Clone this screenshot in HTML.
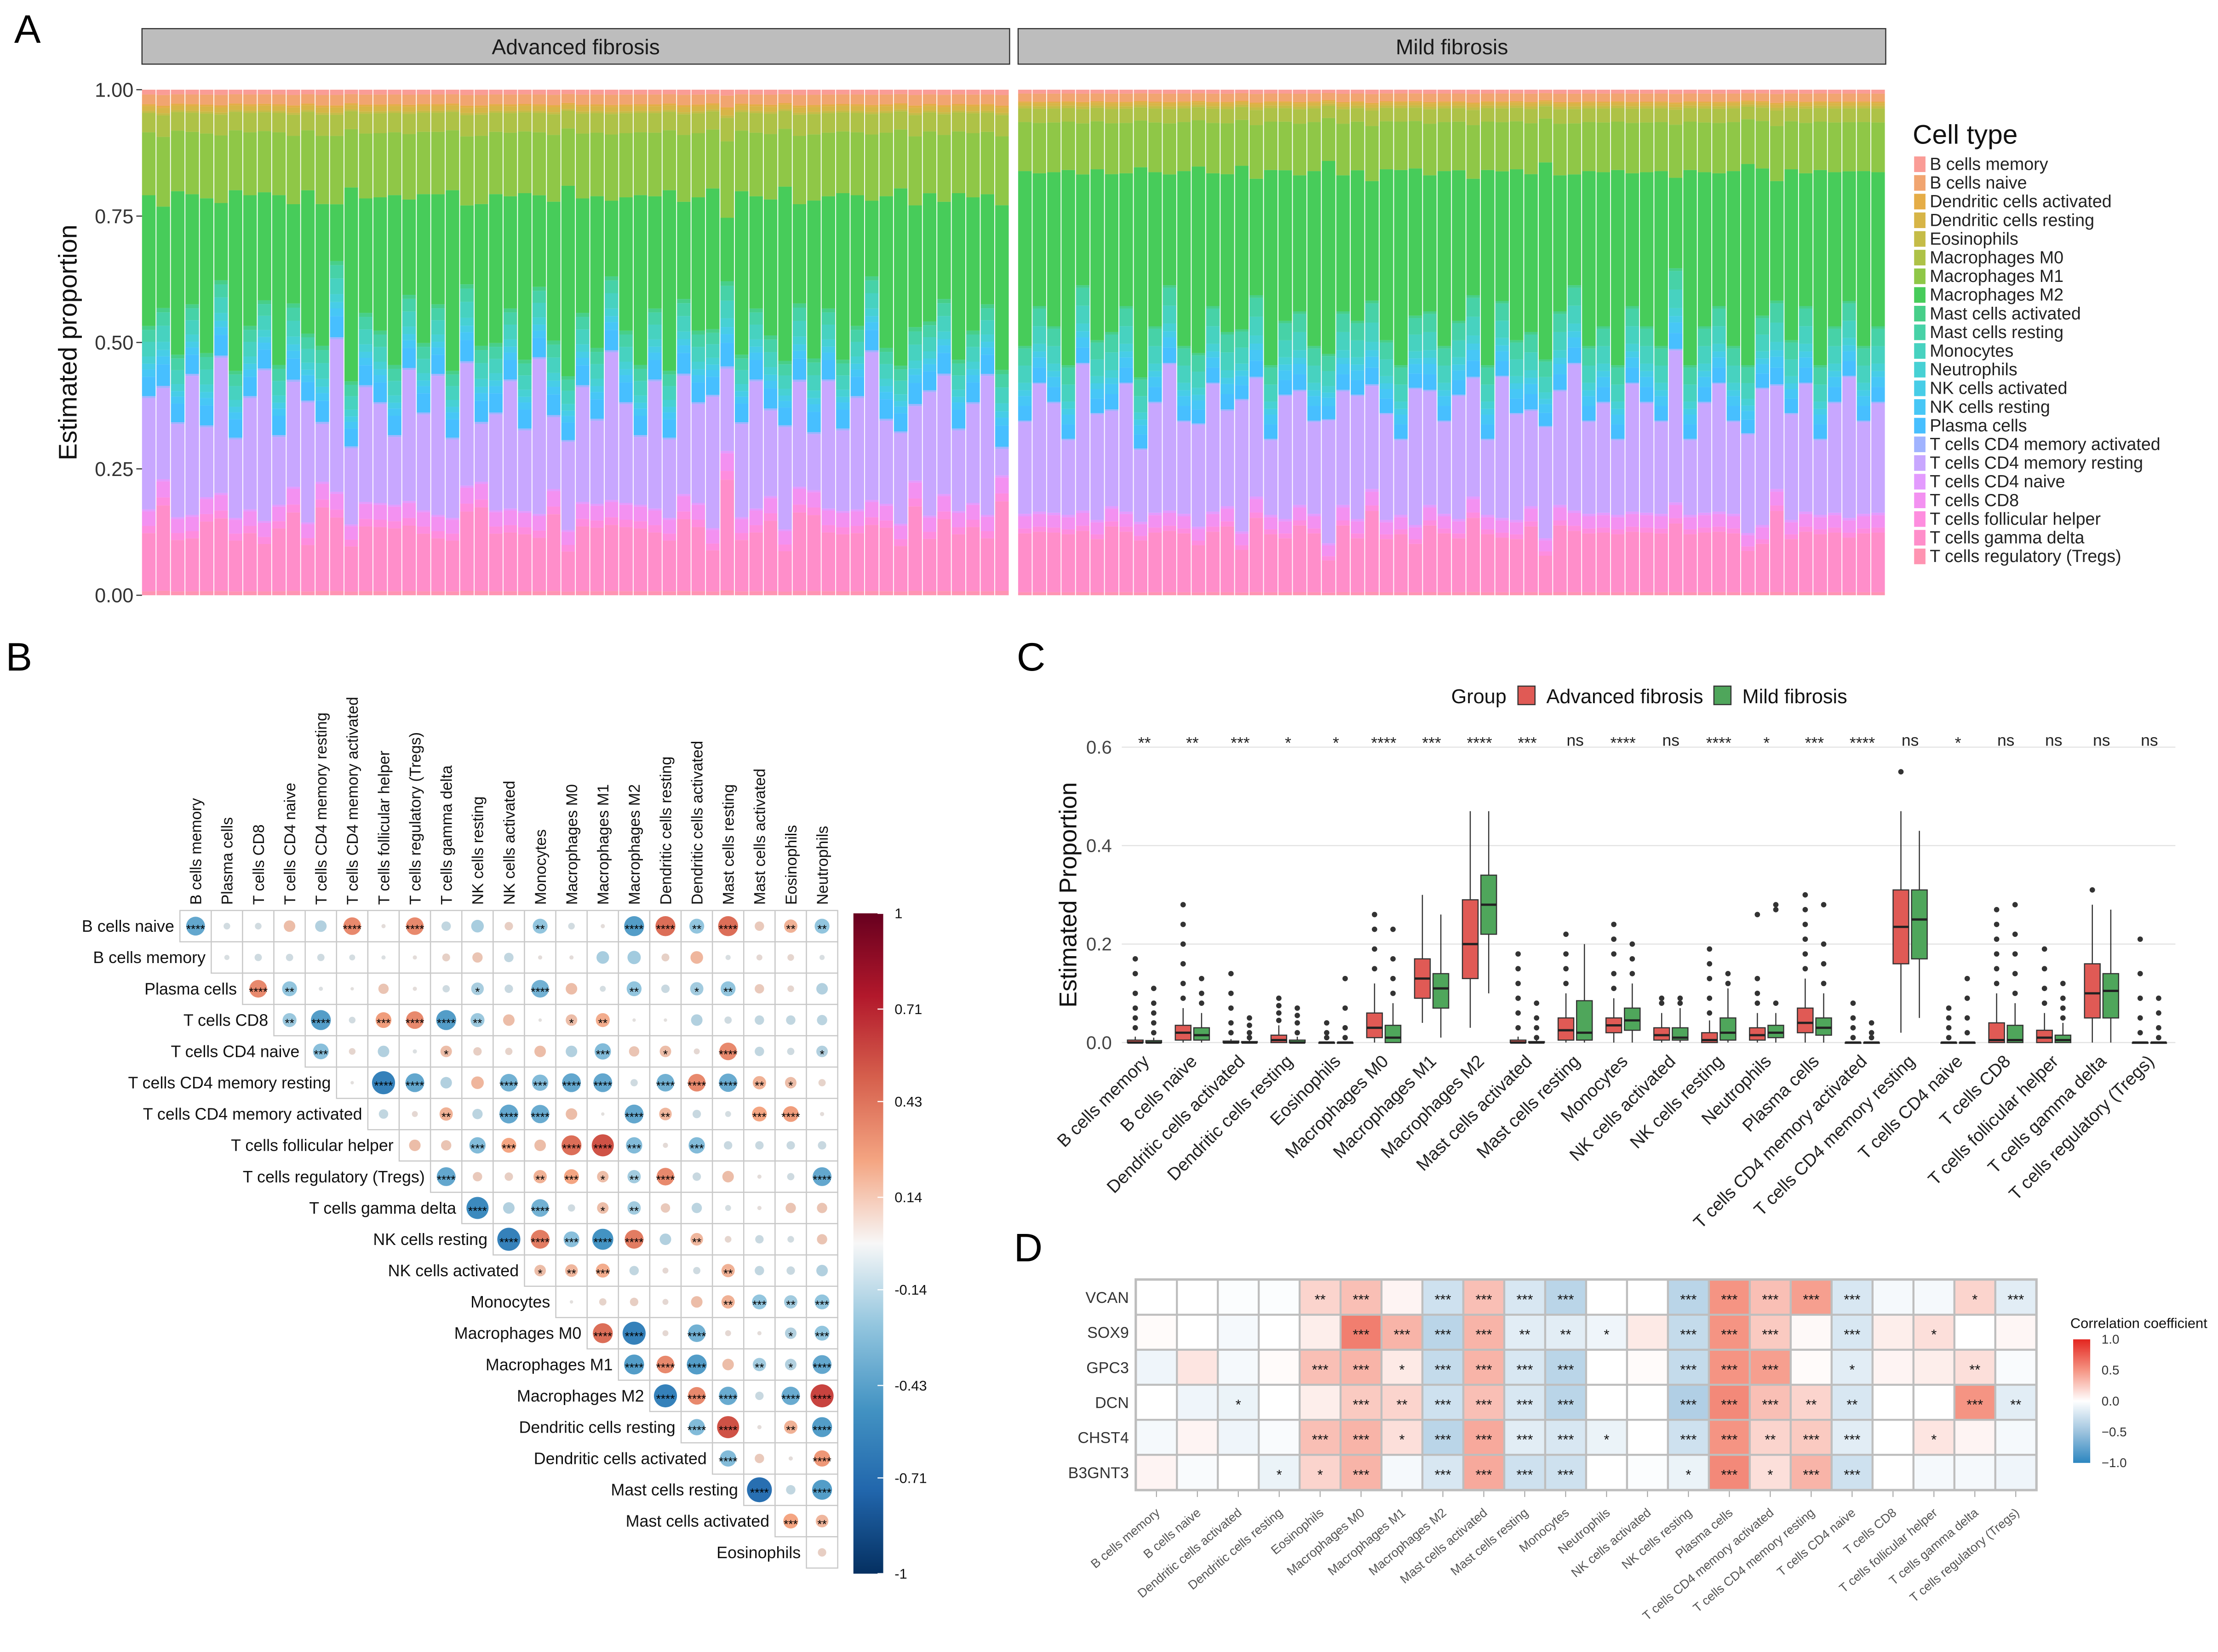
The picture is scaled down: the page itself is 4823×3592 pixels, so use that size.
<!DOCTYPE html>
<html><head><meta charset="utf-8">
<style>
html,body{margin:0;padding:0;background:#fff;}
svg{display:block;font-family:"Liberation Sans",Arial,sans-serif;}
</style></head>
<body>
<svg id="fig" xmlns="http://www.w3.org/2000/svg" width="4823" height="3592" viewBox="0 0 1562 1163">
<defs>
<linearGradient id="gradB" x1="0" y1="0" x2="0" y2="1">
<stop offset="0" stop-color="#67001F"/><stop offset="0.125" stop-color="#B2182B"/><stop offset="0.25" stop-color="#D6604D"/><stop offset="0.375" stop-color="#F4A582"/><stop offset="0.5" stop-color="#F7F7F7"/><stop offset="0.625" stop-color="#92C5DE"/><stop offset="0.75" stop-color="#4393C3"/><stop offset="0.875" stop-color="#2166AC"/><stop offset="1" stop-color="#053061"/>
</linearGradient>
<linearGradient id="gradD" x1="0" y1="0" x2="0" y2="1">
<stop offset="0" stop-color="#E3251F"/><stop offset="0.25" stop-color="#F59483"/><stop offset="0.5" stop-color="#FFFFFF"/><stop offset="0.75" stop-color="#9DC3DE"/><stop offset="1" stop-color="#2C86C0"/>
</linearGradient>
</defs>
<text x="10" y="30" font-size="28">A</text>
<text x="4" y="472" font-size="28">B</text>
<text x="716" y="472" font-size="28">C</text>
<text x="714" y="888" font-size="28">D</text>
<g id="pA"></g>
<g id="pB"></g>
<g id="pC"></g>
<g id="pD"></g>
</svg>
<script>
const NS="http://www.w3.org/2000/svg";
function mk(tag,attrs,parent){const e=document.createElementNS(NS,tag);for(const k in attrs)e.setAttribute(k,attrs[k]);parent.appendChild(e);return e;}
function txt(s,attrs,parent){const e=mk('text',attrs,parent);e.textContent=s;return e;}

/* ---------- Panel A data ---------- */
const cellTypes=["B cells memory","B cells naive","Dendritic cells activated","Dendritic cells resting","Eosinophils","Macrophages M0","Macrophages M1","Macrophages M2","Mast cells activated","Mast cells resting","Monocytes","Neutrophils","NK cells activated","NK cells resting","Plasma cells","T cells CD4 memory activated","T cells CD4 memory resting","T cells CD4 naive","T cells CD8","T cells follicular helper","T cells gamma delta","T cells regulatory (Tregs)"];
const meanAdv=[0.01,0.02,0.004,0.01,0.004,0.04,0.13,0.27,0.008,0.025,0.03,0.015,0.012,0.015,0.04,0.004,0.2,0.004,0.03,0.015,0.13,0.008];
const meanMild=[0.008,0.016,0.003,0.006,0.005,0.028,0.1,0.31,0.005,0.035,0.035,0.015,0.012,0.02,0.03,0.003,0.22,0.005,0.025,0.01,0.12,0.006];
const advM2Scale=[1.0,0.8,1.2,0.9,1.1,0.7,1.3,1.0,0.9,1.2,0.8,1.1,1.0,0.6,1.4,0.9,1.0,1.2,0.8,1.1,0.9,1.3,0.7,1.0,1.1,0.9,1.2,0.8,1.0,1.4,0.9,1.1,0.7,1.0,1.2,0.9,1.3,0.8,1.0,1.1,0.6,1.2,0.9,1.0,1.3,0.8,1.1,0.9,1.2,1.0,0.7,1.1,1.3,0.9,1.0,0.8,1.2,1.0,0.9,1.1];
const advCd4Scale=[1.1,0.9,1.0,1.3,0.8,1.2,0.9,1.1,1.4,0.8,1.0,1.2,0.7,1.3,0.9,1.1,1.0,0.8,1.2,1.0,1.3,0.9,1.1,0.7,1.0,1.2,0.9,1.4,0.8,1.0,1.1,0.9,1.3,1.0,0.8,1.2,0.9,1.1,1.0,1.3,0.8,1.0,1.2,0.9,1.1,1.0,0.7,1.2,0.9,1.1,1.3,0.9,1.0,0.8,1.2,1.1,0.9,1.0,1.3,0.5];
const mildM2Scale=[1.1,0.9,1.0,1.2,0.8,1.1,1.0,0.9,1.3,1.0,0.8,1.1,1.2,0.9,1.0,1.1,0.8,1.2,1.0,0.9,1.1,1.3,0.9,1.0,0.8,1.1,1.2,1.0,0.9,1.1,1.0,0.8,1.2,0.9,1.1,1.0,1.3,0.9,0.8,1.1,1.0,1.2,0.9,1.0,1.1,0.7,1.2,1.0,0.9,1.1,1.3,1.0,0.8,1.1,0.9,1.2,1.0,0.9,1.1,1.0];
const mildCd4Scale=[0.9,1.1,1.0,0.8,1.2,1.0,0.9,1.1,0.8,1.0,1.2,0.9,1.0,1.1,0.9,1.2,1.0,0.8,1.1,1.0,0.9,1.2,1.0,1.1,0.9,1.0,0.8,1.2,1.0,0.9,1.1,1.0,0.8,1.2,1.0,0.9,1.1,1.0,1.2,0.9,1.0,0.8,1.1,1.0,0.9,1.2,0.8,1.0,1.1,0.9,1.0,1.2,0.9,1.0,1.1,0.8,1.0,1.2,0.9,1.0];
const yTicksA=[0,0.25,0.5,0.75,1];
const yTickLabelsA=["0.00","0.25","0.50","0.75","1.00"];

function hcl(h){const L=65,C=100,hr=h*Math.PI/180,u=C*Math.cos(hr),v=C*Math.sin(hr);const Y=Math.pow((L+16)/116,3);const up=u/(13*L)+0.19784,vp=v/(13*L)+0.46834;const X=Y*9*up/(4*vp),Z=Y*(12-3*up-20*vp)/(4*vp);let r=3.2406*X-1.5372*Y-0.4986*Z,g=-0.9689*X+1.8758*Y+0.0415*Z,b=0.0557*X-0.2040*Y+1.0570*Z;const gm=c=>{c=Math.max(0,Math.min(1,c));return Math.round(255*(c<=0.0031308?12.92*c:1.055*Math.pow(c,1/2.4)-0.055));};return `rgb(${gm(r)},${gm(g)},${gm(b)})`;}
const typeColors=cellTypes.map((_,i)=>hcl(15+360*i/cellTypes.length));

(function(){
const g=document.getElementById('pA');
const yA=v=>419-v*356;
const facets=[{name:"Advanced fibrosis",x0:100,x1:711,mean:meanAdv,s1:advM2Scale,s2:advCd4Scale},{name:"Mild fibrosis",x0:717,x1:1328,mean:meanMild,s1:mildM2Scale,s2:mildCd4Scale}];
facets.forEach((f,fi)=>{
 const strip=mk('rect',{x:f.x0,y:20,width:f.x1-f.x0,height:25,fill:'#BDBDBD',stroke:'#333','stroke-width':0.8},g);
 
 
 const st=txt(f.name,{x:(f.x0+f.x1)/2,y:38,'font-size':15,'text-anchor':'middle',fill:'#1a1a1a'},g);
 
 
 const n=f.s1.length,step=(f.x1-f.x0)/n;
 for(let s=0;s<n;s++){
  const a=1+1.5*(f.s1[s]-1),b=1+1.5*(f.s2[s]-1);
  const vals=f.mean.map((m,i)=>i===7?m*a:(i===16?m*b:(i===20?m*Math.max(0.3,2-a*0.5-b*0.5):m)));
  const tot=vals.reduce((x,y)=>x+y,0);
  let cum=1;
  for(let i=0;i<vals.length;i++){
   const p=vals[i]/tot;
   const r=mk('rect',{x:f.x0+s*step,y:yA(cum),width:step*0.94,height:p*356,fill:typeColors[i],'fill-opacity':0.72},g);
   
   
   cum-=p;
  }
 }
});
yTicksA.forEach((t,i)=>{
 const tl=txt(yTickLabelsA[i],{x:94,y:yA(t)+5,'font-size':14,'text-anchor':'end',fill:'#333'},g);
 
 
 mk('line',{x1:96,x2:100,y1:yA(t),y2:yA(t),stroke:'#333','stroke-width':0.8},g);
});
const yt=txt('Estimated proportion',{x:0,y:0,'font-size':18,'text-anchor':'middle',transform:'translate(54,241) rotate(-90)',fill:'#111'},g);


const lt=txt('Cell type',{x:1347,y:101,'font-size':19,fill:'#111'},g);


cellTypes.forEach((c,i)=>{
 const y=110+i*13.15;
 const k=mk('rect',{x:1348,y:y,width:8,height:11,fill:typeColors[i],'fill-opacity':0.72},g);
 
 
 const t=txt(c,{x:1359,y:y+9.5,'font-size':12.2,fill:'#222'},g);
 
 
});
})();

/* ---------- Panel B data ---------- */
const corrCols=["B cells memory","Plasma cells","T cells CD8","T cells CD4 naive","T cells CD4 memory resting","T cells CD4 memory activated","T cells follicular helper","T cells regulatory (Tregs)","T cells gamma delta","NK cells resting","NK cells activated","Monocytes","Macrophages M0","Macrophages M1","Macrophages M2","Dendritic cells resting","Dendritic cells activated","Mast cells resting","Mast cells activated","Eosinophils","Neutrophils"];
const corrRows=["B cells naive","B cells memory","Plasma cells","T cells CD8","T cells CD4 naive","T cells CD4 memory resting","T cells CD4 memory activated","T cells follicular helper","T cells regulatory (Tregs)","T cells gamma delta","NK cells resting","NK cells activated","Monocytes","Macrophages M0","Macrophages M1","Macrophages M2","Dendritic cells resting","Dendritic cells activated","Mast cells resting","Mast cells activated","Eosinophils"];
const corrVals=[
[-0.4,-0.05,-0.05,0.15,-0.15,0.35,0.02,0.35,-0.1,-0.18,0.08,-0.25,-0.05,0.02,-0.45,0.45,-0.25,0.45,0.1,0.2,-0.25],
[-0.03,-0.06,-0.06,-0.06,-0.04,-0.02,0.02,0.07,0.12,-0.1,0.02,0.02,-0.18,-0.2,0.07,0.18,-0.03,0.04,0.05,-0.03],
[0.35,-0.25,-0.02,0.01,0.12,0.02,-0.06,-0.18,-0.08,-0.35,0.15,-0.04,-0.25,-0.08,-0.2,-0.25,0.1,0.05,-0.15],
[-0.22,-0.45,-0.05,0.28,0.35,-0.45,-0.22,0.15,0.01,0.15,0.22,0.01,0.01,-0.15,-0.06,-0.1,-0.1,-0.12],
[-0.28,0.05,-0.15,-0.02,0.15,0.08,0.06,0.15,-0.15,-0.3,0.12,0.15,0.04,0.35,-0.1,-0.06,-0.15],
[0.01,-0.6,-0.4,-0.15,0.18,-0.35,-0.3,-0.4,-0.4,-0.06,-0.35,0.35,-0.38,0.2,0.15,0.06],
[-0.1,0.04,0.2,-0.12,-0.4,-0.38,0.15,0.01,-0.4,0.18,-0.08,-0.04,0.25,0.28,0.02],
[0.15,0.12,-0.3,0.25,0.15,0.45,0.55,-0.3,0.03,-0.3,-0.08,-0.08,-0.08,-0.08],
[-0.4,0.1,0.08,0.2,0.25,0.15,-0.2,0.35,-0.08,0.15,0.02,-0.06,-0.4],
[-0.55,-0.15,-0.35,-0.06,0.15,-0.2,0.1,-0.12,-0.04,0.02,0.12,0.12],
[-0.6,0.4,-0.28,-0.5,0.4,-0.15,0.18,0.05,-0.08,-0.05,0.12],
[0.15,0.18,0.22,-0.1,0.04,-0.06,0.2,-0.1,-0.08,-0.15],
[0.01,0.06,0.08,0.04,0.15,0.2,-0.25,-0.2,-0.25],
[0.45,-0.6,0.04,-0.35,0.04,0.02,-0.15,-0.25],
[-0.45,0.35,-0.45,0.15,-0.2,-0.15,-0.4],
[-0.6,0.35,-0.38,-0.08,-0.38,0.6],
[-0.3,0.55,0.02,0.2,-0.45],
[-0.3,0.1,0.02,0.3],
[-0.7,-0.1,-0.45],
[0.25,0.18],
[0.08]];
const corrStars=[
["****","","","","","****","","****","","","","**","","","****","****","**","****","","**","**"],
["","","","","","","","","","","","","","","","","","","",""],
["****","**","","","","","","*","","****","","","**","","*","**","","",""],
["**","****","","***","****","****","**","","","*","**","","","","","","",""],
["***","","","","*","","","","","***","","*","","****","","","*"],
["","****","****","","","****","***","****","****","","****","****","****","**","*",""],
["","","**","","****","****","","","****","**","","","***","****",""],
["","","***","***","","****","****","***","","***","","","",""],
["****","","","**","***","*","**","****","","","","","****"],
["****","","****","","*","**","","","","","",""],
["****","****","***","****","****","","**","","","",""],
["*","**","***","","","","**","","",""],
["","","","","","**","***","**","***"],
["****","****","","****","","","*","***"],
["****","****","****","","**","*","****"],
["****","****","****","","****","****"],
["****","****","","**","****"],
["****","","","****"],
["****","","****"],
["***","**"],
[""]];
const corrBarTicks=[1,0.71,0.43,0.14,-0.14,-0.43,-0.71,-1];

function lerpStops(stops,v){for(let i=0;i<stops.length-1;i++){const a=stops[i],b=stops[i+1];if(v>=a[0]&&v<=b[0]){const t=(v-a[0])/(b[0]-a[0]);const ca=a[1],cb=b[1];return `rgb(${Math.round(ca[0]+(cb[0]-ca[0])*t)},${Math.round(ca[1]+(cb[1]-ca[1])*t)},${Math.round(ca[2]+(cb[2]-ca[2])*t)})`;}}return 'rgb(255,255,255)';}
const rdbu=[[-1,[5,48,97]],[-0.75,[33,102,172]],[-0.5,[67,147,195]],[-0.25,[146,197,222]],[0,[225,225,225]],[0.25,[244,165,130]],[0.5,[214,96,77]],[0.75,[178,24,43]],[1,[103,0,31]]];

(function(){
const g=document.getElementById('pB');
const x0=126.7,cw=22.06,y0=641,rh=22.05;
corrCols.forEach((c,i)=>{
 const t=txt(c,{x:0,y:0,'font-size':11,fill:'#111',transform:`translate(${x0+cw*(i+0.5)+4},637) rotate(-90)`},g);
 
 
});
corrRows.forEach((rn,r)=>{
 const cy=y0+rh*(r+0.5);
 const t=txt(rn,{x:x0+cw*r-4,y:cy+4,'font-size':11.6,'text-anchor':'end',fill:'#111'},g);
 
 
 corrVals[r].forEach((v,k)=>{
  const c=r+k,cx=x0+cw*(c+0.5);
  const cell=mk('rect',{x:x0+cw*c,y:y0+rh*r,width:cw,height:rh,fill:'#fff',stroke:'#C8C8C8','stroke-width':0.8},g);
  
  
  const circ=mk('circle',{cx:cx,cy:cy,r:Math.max(1.2,Math.sqrt(Math.abs(v))*cw*0.5*0.95),fill:lerpStops(rdbu,v)},g);
  
  
  const s=corrStars[r][k];
  if(s){const st=txt(s,{x:cx,y:cy+5,'font-size':8.5,'text-anchor':'middle',fill:'#000'},g);
   
   }
 });
});
const bar=mk('rect',{x:601,y:643,width:21,height:465,fill:'url(#gradB)'},g);


corrBarTicks.forEach(t=>{
 const y=643+(1-t)/2*465;
 mk('line',{x1:618,x2:622,y1:y,y2:y,stroke:'#fff','stroke-width':0.8},g);
 const l=txt(String(t),{x:630,y:y+3.5,'font-size':10,fill:'#111'},g);
 
 
});
})();

/* ---------- Panel C data ---------- */
const boxCats=["B cells memory","B cells naive","Dendritic cells activated","Dendritic cells resting","Eosinophils","Macrophages M0","Macrophages M1","Macrophages M2","Mast cells activated","Mast cells resting","Monocytes","NK cells activated","NK cells resting","Neutrophils","Plasma cells","T cells CD4 memory activated","T cells CD4 memory resting","T cells CD4 naive","T cells CD8","T cells follicular helper","T cells gamma delta","T cells regulatory (Tregs)"];
const sigLabels=["**","**","***","*","*","****","***","****","***","ns","****","ns","****","*","***","****","ns","*","ns","ns","ns","ns"];
/* [lowWhisker, q1, median, q3, highWhisker] */
const statsAdv=[[0,0,0,0.005,0.012],[0,0.005,0.02,0.035,0.07],[0,0,0,0.003,0.007],[0,0,0.005,0.015,0.035],[0,0,0,0,0.002],[0,0.01,0.03,0.06,0.12],[0.04,0.09,0.13,0.17,0.3],[0.03,0.13,0.2,0.29,0.47],[0,0,0,0.005,0.012],[0,0.005,0.025,0.05,0.1],[0,0.02,0.035,0.05,0.09],[0,0.005,0.015,0.03,0.06],[0,0,0.005,0.02,0.045],[0,0.005,0.015,0.03,0.06],[0,0.02,0.04,0.07,0.13],[0,0,0,0,0.002],[0.02,0.16,0.235,0.31,0.47],[0,0,0,0,0.002],[0,0,0.005,0.04,0.1],[0,0,0.01,0.025,0.06],[0,0.05,0.1,0.16,0.28],[0,0,0,0,0.002]];
const statsMild=[[0,0,0,0.004,0.01],[0,0.005,0.015,0.03,0.06],[0,0,0,0.002,0.005],[0,0,0,0.005,0.012],[0,0,0,0,0.002],[0,0,0.01,0.035,0.08],[0.01,0.07,0.11,0.14,0.26],[0.1,0.22,0.28,0.34,0.47],[0,0,0,0.002,0.005],[0,0.005,0.02,0.085,0.2],[0,0.025,0.045,0.07,0.12],[0,0.005,0.01,0.03,0.07],[0,0.005,0.02,0.05,0.11],[0,0.01,0.02,0.035,0.06],[0,0.015,0.03,0.05,0.1],[0,0,0,0,0.002],[0.05,0.17,0.25,0.31,0.43],[0,0,0,0,0.002],[0,0,0.005,0.035,0.08],[0,0,0.005,0.015,0.04],[0,0.05,0.105,0.14,0.27],[0,0,0,0,0.002]];
const outAdv=[[0.03,0.05,0.07,0.1,0.14,0.17],[0.09,0.12,0.16,0.2,0.24,0.28],[0.02,0.04,0.07,0.1,0.14],[0.045,0.06,0.075,0.09],[0.01,0.02,0.04],[0.15,0.19,0.23,0.26],[],[],[0.03,0.06,0.09,0.12,0.15,0.18],[0.12,0.15,0.18,0.22],[0.11,0.14,0.18,0.21,0.24],[0.08,0.09],[0.06,0.09,0.13,0.16,0.19],[0.08,0.1,0.13,0.26],[0.15,0.18,0.21,0.24,0.27,0.3],[0.01,0.03,0.05,0.08],[0.55],[0.01,0.03,0.05,0.07],[0.12,0.15,0.18,0.21,0.24,0.27],[0.08,0.11,0.15,0.19],[0.31],[0.02,0.05,0.09,0.14,0.21]];
const outMild=[[0.02,0.04,0.06,0.08,0.11],[0.08,0.1,0.13],[0.01,0.02,0.035,0.05],[0.02,0.04,0.055,0.07],[0.01,0.03,0.07,0.13],[0.1,0.13,0.17,0.23],[],[],[0.01,0.03,0.05,0.08],[],[0.14,0.17,0.2],[0.08,0.09],[0.12,0.14],[0.08,0.27,0.28],[0.12,0.16,0.2,0.28],[0.01,0.02,0.04],[],[0.02,0.05,0.09,0.13],[0.1,0.14,0.18,0.22,0.28],[0.05,0.07,0.09,0.12],[],[0.01,0.03,0.06,0.09]];
const yTicksC=[0,0.2,0.4,0.6];
const yTickLabelsC=["0.0","0.2","0.4","0.6"];

(function(){
const g=document.getElementById('pC');
const yC=v=>734-v*346.7;
const xC=i=>806+i*33.7;
yTicksC.forEach((t,i)=>{
 const gl=mk('line',{x1:790,x2:1532,y1:yC(t),y2:yC(t),stroke:'#E3E3E3','stroke-width':0.8},g);
 
 
 const l=txt(yTickLabelsC[i],{x:783,y:yC(t)+4.5,'font-size':13,'text-anchor':'end',fill:'#444'},g);
 
 
});
const yt=txt('Estimated Proportion',{x:0,y:0,'font-size':17,'text-anchor':'middle',transform:'translate(758,630) rotate(-90)',fill:'#111'},g);


const lg=txt('Group',{x:1022,y:495,'font-size':14,fill:'#111'},g);


[['Advanced fibrosis','#E05A55',1069],['Mild fibrosis','#4FA65B',1207]].forEach(([n,c,x])=>{
 const k=mk('rect',{x:x,y:483,width:12,height:13,fill:c,stroke:'#333','stroke-width':0.8},g);
 
 
 const t=txt(n,{x:x+20,y:495,'font-size':14,fill:'#111'},g);
 
 
});
function drawBox(st,outs,cx,color){
 const w=11;
 mk('line',{x1:cx,x2:cx,y1:yC(st[0]),y2:yC(st[1]),stroke:'#333','stroke-width':0.8},g);
 mk('line',{x1:cx,x2:cx,y1:yC(st[3]),y2:yC(st[4]),stroke:'#333','stroke-width':0.8},g);
 const b=mk('rect',{x:cx-w/2,y:yC(st[3]),width:w,height:Math.max(0.5,yC(st[1])-yC(st[3])),fill:color,stroke:'#333','stroke-width':0.8},g);
 
 
 mk('line',{x1:cx-w/2,x2:cx+w/2,y1:yC(st[2]),y2:yC(st[2]),stroke:'#222','stroke-width':1.6},g);
 outs.forEach(o=>{const p=mk('circle',{cx:cx,cy:yC(o),r:1.9,fill:'#333'},g);
  
  });
}
boxCats.forEach((c,i)=>{
 drawBox(statsAdv[i],outAdv[i],xC(i)-6.5,'#E05A55');
 drawBox(statsMild[i],outMild[i],xC(i)+6.5,'#4FA65B');
 const s=txt(sigLabels[i],{x:xC(i),y:sigLabels[i]==='ns'?525:527,'font-size':11.5,'text-anchor':'middle',fill:'#222'},g);
 
 
 const l=txt(c,{x:0,y:0,'font-size':12.5,'text-anchor':'end',fill:'#222',transform:`translate(${xC(i)+4},748) rotate(-45)`},g);
 
 
});
})();

/* ---------- Panel D data ---------- */
const genes=["VCAN","SOX9","GPC3","DCN","CHST4","B3GNT3"];
const heatCols=["B cells memory","B cells naive","Dendritic cells activated","Dendritic cells resting","Eosinophils","Macrophages M0","Macrophages M1","Macrophages M2","Mast cells activated","Mast cells resting","Monocytes","Neutrophils","NK cells activated","NK cells resting","Plasma cells","T cells CD4 memory activated","T cells CD4 memory resting","T cells CD4 naive","T cells CD8","T cells follicular helper","T cells gamma delta","T cells regulatory (Tregs)"];
const heatVals=[
[0,0,-0.02,-0.02,0.2,0.3,0.05,-0.25,0.3,-0.2,-0.35,0,0,-0.35,0.5,0.3,0.45,-0.2,-0.05,-0.05,0.2,-0.15],
[0.02,0,-0.05,0,0.08,0.6,0.35,-0.35,0.35,-0.15,-0.15,-0.08,0.1,-0.3,0.5,0.25,0.03,-0.2,0.08,0.15,0,0.04],
[-0.08,0.12,-0.05,0.02,0.3,0.35,0.1,-0.3,0.35,-0.2,-0.35,0,0.02,-0.3,0.5,0.45,0.02,-0.15,0.05,0.08,0.15,-0.03],
[0,-0.08,-0.1,0,0.08,0.25,0.2,-0.25,0.3,-0.2,-0.35,0,0,-0.4,0.55,0.3,0.2,-0.2,0,0,0.5,-0.15],
[-0.05,0.05,-0.08,-0.03,0.3,0.35,0.15,-0.35,0.4,-0.15,-0.2,-0.1,0,-0.25,0.5,0.2,0.25,-0.15,0,0.12,0.05,-0.05],
[0.05,-0.03,0,-0.1,0.2,0.35,-0.05,-0.2,0.4,-0.25,-0.25,0,-0.02,-0.1,0.55,0.15,0.35,-0.25,0,-0.05,-0.05,-0.08]];
const heatSig=[
["","","","","**","***","","***","***","***","***","","","***","***","***","***","***","","","*","***"],
["","","","","","***","***","***","***","**","**","*","","***","***","***","","***","","*","",""],
["","","","","***","***","*","***","***","***","***","","","***","***","***","","*","","","**",""],
["","","*","","","***","**","***","***","***","***","","","***","***","***","**","**","","","***","**"],
["","","","","***","***","*","***","***","***","***","*","","***","***","**","***","***","","*","",""],
["","","","*","*","***","","***","***","***","***","","","*","***","*","***","***","","","",""]];
const heatLegendTicks=[1,0.5,0,-0.5,-1];
const heatLegendLabels=["1.0","0.5","0.0","\u22120.5","\u22121.0"];
const divStops=[[-1,[44,134,192]],[-0.5,[157,195,222]],[0,[255,255,255]],[0.5,[245,148,131]],[1,[227,37,31]]];

(function(){
const g=document.getElementById('pD');
const x0=800,cw=(1434-800)/22,y0=901,rh=(1049-901)/6;
mk('rect',{x:x0-1,y:y0-1,width:cw*22+2,height:rh*6+2,fill:'#BEBEBE'},g);
genes.forEach((gn,r)=>{
 const l=txt(gn,{x:x0-5,y:y0+rh*(r+0.5)+4,'font-size':11,'text-anchor':'end',fill:'#333'},g);
 
 
 heatVals[r].forEach((v,c)=>{
  const cell=mk('rect',{x:x0+cw*c,y:y0+rh*r,width:cw,height:rh,fill:lerpStops(divStops,v),stroke:'#BEBEBE','stroke-width':1.4},g);
  
  
  const s=heatSig[r][c];
  if(s){const t=txt(s,{x:x0+cw*(c+0.5),y:y0+rh*(r+0.5)+5,'font-size':10,'text-anchor':'middle',fill:'#111'},g);
   
   }
 });
});
heatCols.forEach((c,i)=>{
 const cx=x0+cw*(i+0.5);
 mk('line',{x1:cx,x2:cx,y1:1050,y2:1054,stroke:'#999','stroke-width':0.6},g);
 const l=txt(c,{x:0,y:0,'font-size':8.8,'text-anchor':'end',fill:'#555',transform:`translate(${cx+3},1066) rotate(-40)`},g);
 
 
});
const lt=txt('Correlation coefficient',{x:1458,y:935,'font-size':10,fill:'#111'},g);


const bar=mk('rect',{x:1460,y:943,width:12,height:87,fill:'url(#gradD)'},g);


heatLegendTicks.forEach((t,i)=>{
 const y=943+(1-t)/2*87;
 const l=txt(heatLegendLabels[i],{x:1480,y:y+3,'font-size':9,fill:'#333'},g);
 
 
});
})();
</script>
</body></html>
